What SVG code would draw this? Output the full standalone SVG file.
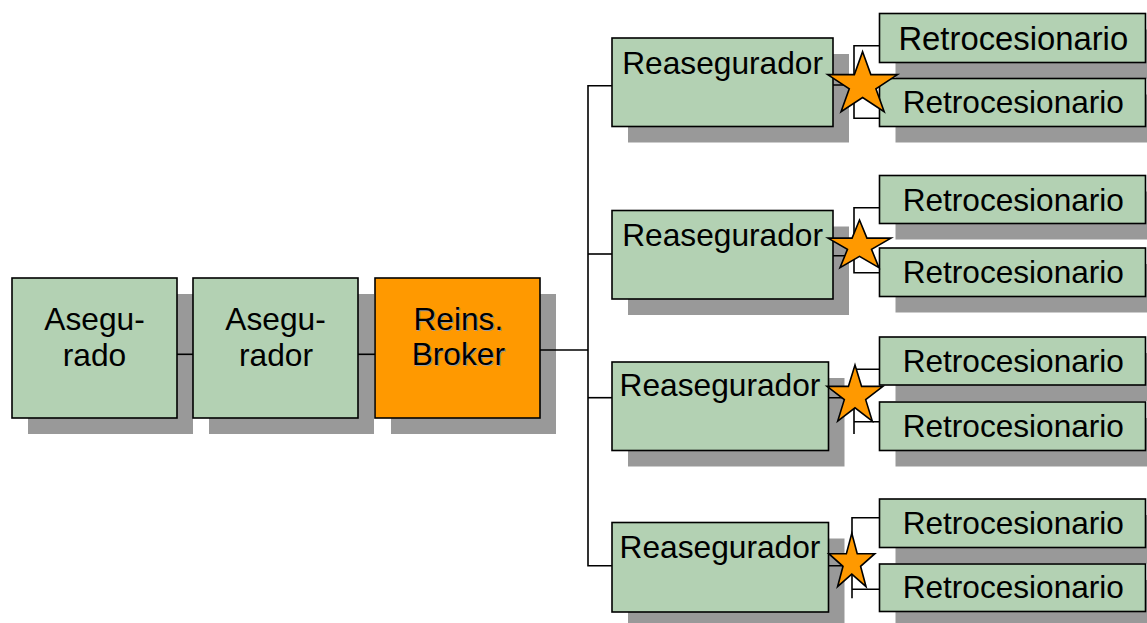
<svg xmlns="http://www.w3.org/2000/svg" width="1147" height="623" viewBox="0 0 1147 623">
  <style>
    .box { fill: #b3d1b3; stroke: #000; stroke-width: 1.6; }
    .broker { fill: #ff9900; stroke: #000; stroke-width: 1.6; }
    .shadow { fill: #999999; }
    .lbl { font-family: "Liberation Sans", Arial, sans-serif; fill: #000; text-anchor: middle; font-size: 31.7px; }
    .sm { font-size: 31.6px; }
    .halo { fill: #9a9a9a; }
    .wire { fill: none; stroke: #000; stroke-width: 1.6; }
    .star { fill: #ff9900; stroke: #000; stroke-width: 1.6; stroke-linejoin: miter; }
  </style>
  <rect width="1147" height="623" fill="#fff"/>

  <!-- drop shadows sit under everything -->
  <g id="shadows">
    <rect class="shadow" x="28" y="294" width="165" height="140"/>
    <rect class="shadow" x="209" y="294" width="165" height="140"/>
    <rect class="shadow" x="391" y="294" width="165" height="140"/>
    <rect class="shadow" x="628" y="54" width="221" height="88.5"/>
    <rect class="shadow" x="628" y="226.5" width="221" height="88.5"/>
    <rect class="shadow" x="628" y="378" width="216.5" height="88.5"/>
    <rect class="shadow" x="628" y="538.5" width="216.5" height="89.5"/>
    <rect class="shadow" x="895.5" y="29.5" width="266" height="49"/>
    <rect class="shadow" x="895.5" y="94.5" width="266" height="48"/>
    <rect class="shadow" x="895.5" y="191.5" width="266" height="48"/>
    <rect class="shadow" x="895.5" y="264" width="266" height="48.5"/>
    <rect class="shadow" x="895.5" y="353" width="266" height="48"/>
    <rect class="shadow" x="895.5" y="418" width="266" height="48.5"/>
    <rect class="shadow" x="895.5" y="515" width="266" height="48.5"/>
    <rect class="shadow" x="895.5" y="580" width="266" height="47.5"/>
  </g>

  <g id="connectors">
    <path class="wire" d="M177,354.3 H193"/>
    <path class="wire" d="M358,354.3 H375"/>
    <path class="wire" d="M540,350 H588"/>
    <path class="wire" d="M612,85.7 H588 V565.7 H612"/>
    <path class="wire" d="M588,254 H612"/>
    <path class="wire" d="M588,397.7 H612"/>
    <!-- reinsurer to retrocessionaires -->
    <path class="wire" d="M833,85 H854 M879.5,45.7 H854 V118.3 H879.5"/>
    <path class="wire" d="M833,255.7 H854 M879.5,207.7 H854 V272.7 H879.5"/>
    <path class="wire" d="M828.5,397.7 H854 M879.5,369.3 H854 V434 M854,421.7 H879.5"/>
    <path class="wire" d="M828.5,565.7 H852 M879.5,517.7 H852 V598.3 M852,589.3 H879.5"/>
  </g>

  <g id="asegurado">
    <rect class="box" x="12" y="278" width="165" height="140"/>
    <text class="lbl" x="94.5" y="329.5">Asegu-</text>
    <text class="lbl" x="94.5" y="366">rado</text>
  </g>
  <g id="asegurador">
    <rect class="box" x="193" y="278" width="165" height="140"/>
    <text class="lbl" x="275.5" y="329.5">Asegu-</text>
    <text class="lbl" x="276" y="366">rador</text>
  </g>
  <g id="broker">
    <rect class="broker" x="375" y="278" width="165" height="140"/>
    <text class="lbl halo" x="459.3" y="330.5">Reins.</text>
    <text class="lbl halo" x="459.3" y="366">Broker</text>
    <text class="lbl" x="458.3" y="329.5">Reins.</text>
    <text class="lbl" x="458.3" y="365">Broker</text>
  </g>

  <g id="reasegurador-1">
    <rect class="box" x="612" y="38" width="221" height="88.5"/>
    <text class="lbl" x="722.6" y="73.5">Reasegurador</text>
  </g>
  <g id="reasegurador-2">
    <rect class="box" x="612" y="210.5" width="221" height="88.5"/>
    <text class="lbl" x="722.6" y="246">Reasegurador</text>
  </g>
  <g id="reasegurador-3">
    <rect class="box" x="612" y="362" width="216.5" height="88.5"/>
    <text class="lbl" x="720" y="396">Reasegurador</text>
  </g>
  <g id="reasegurador-4">
    <rect class="box" x="612" y="522.5" width="216.5" height="89.5"/>
    <text class="lbl" x="720" y="558.3">Reasegurador</text>
  </g>

  <g id="retro-1a">
    <rect class="box" x="879.5" y="13.5" width="266" height="49"/>
    <text class="lbl" x="1013.3" y="50.3" style="font-size:32.8px">Retrocesionario</text>
  </g>
  <g id="retro-1b">
    <rect class="box" x="879.5" y="78.5" width="266" height="48"/>
    <text class="lbl sm" x="1013.3" y="112.7">Retrocesionario</text>
  </g>
  <g id="retro-2a">
    <rect class="box" x="879.5" y="175.5" width="266" height="48"/>
    <text class="lbl sm" x="1013.3" y="210.7">Retrocesionario</text>
  </g>
  <g id="retro-2b">
    <rect class="box" x="879.5" y="248" width="266" height="48.5"/>
    <text class="lbl sm" x="1013.3" y="282.7">Retrocesionario</text>
  </g>
  <g id="retro-3a">
    <rect class="box" x="879.5" y="337" width="266" height="48"/>
    <text class="lbl sm" x="1013.3" y="371.7">Retrocesionario</text>
  </g>
  <g id="retro-3b">
    <rect class="box" x="879.5" y="402" width="266" height="48.5"/>
    <text class="lbl sm" x="1013.3" y="436.7">Retrocesionario</text>
  </g>
  <g id="retro-4a">
    <rect class="box" x="879.5" y="499" width="266" height="48.5"/>
    <text class="lbl sm" x="1013.3" y="534.3">Retrocesionario</text>
  </g>
  <g id="retro-4b">
    <rect class="box" x="879.5" y="564" width="266" height="47.5"/>
    <text class="lbl sm" x="1013.3" y="598.3">Retrocesionario</text>
  </g>

  <!-- orange star markers between reinsurers and retrocessionaires -->
  <g id="stars">
    <polygon class="star" points="862.6,51.7 870.84,74.64 897.5,74.64 875.93,88.82 884.18,111.76 862.6,97.58 841.02,111.76 849.27,88.82 827.7,74.64 854.36,74.64"/>
    <polygon class="star" points="859.5,220 866.93,238.17 890.98,238.17 871.53,249.4 878.96,267.58 859.5,256.35 840.04,267.58 847.47,249.4 828.02,238.17 852.07,238.17"/>
    <polygon class="star" points="855,365 861.6,386.42 882.96,386.42 865.68,399.66 872.29,421.08 855,407.84 837.71,421.08 844.32,399.66 827.04,386.42 848.4,386.42"/>
    <polygon class="star" points="851.8,533.3 857.23,553.68 874.81,553.68 860.59,566.28 866.03,586.67 851.8,574.07 837.57,586.67 843.01,566.28 828.79,553.68 846.37,553.68"/>
  </g>
</svg>
